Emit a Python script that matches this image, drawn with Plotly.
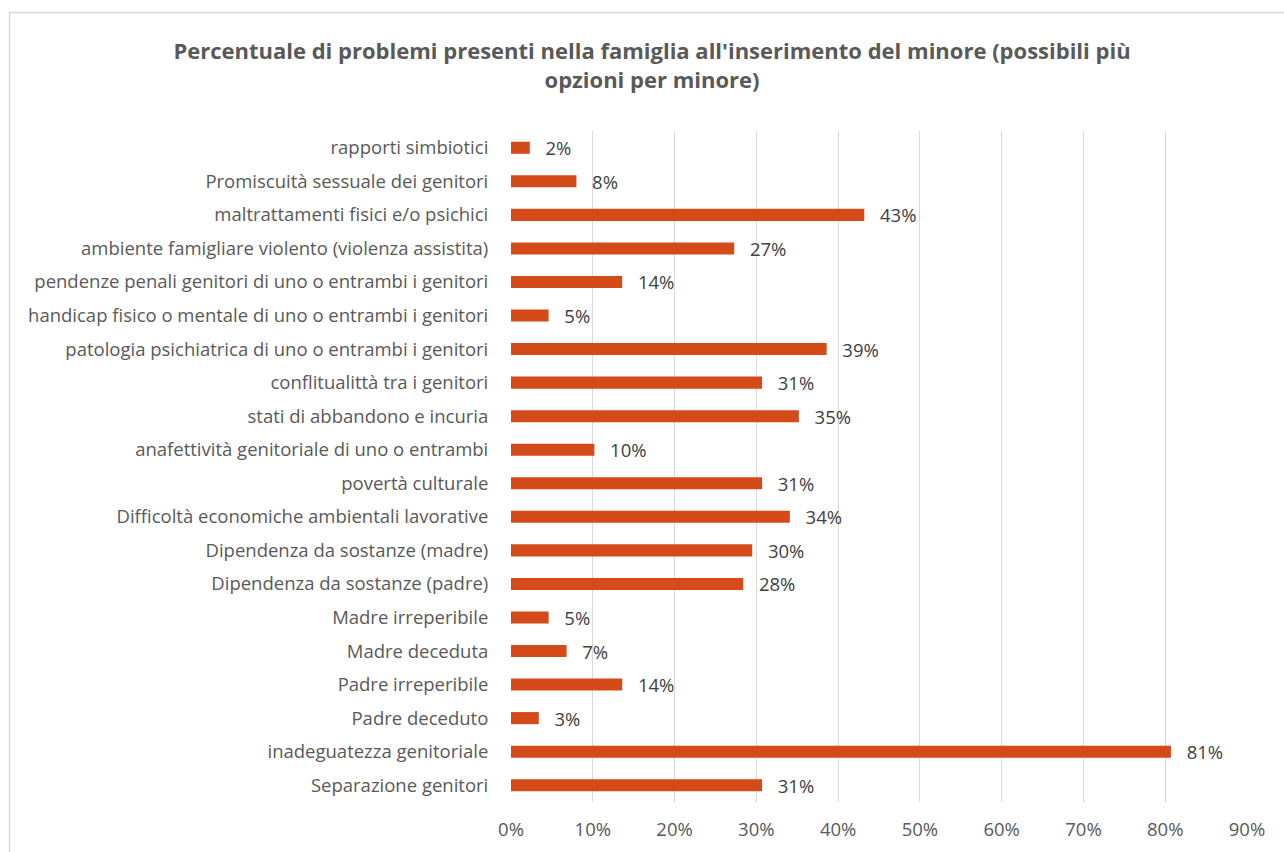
import plotly.graph_objects as go

# Problem categories, top to bottom as listed in the chart
categories = [
    "rapporti simbiotici",
    "Promiscuità sessuale dei genitori",
    "maltrattamenti fisici e/o psichici",
    "ambiente famigliare violento (violenza assistita)",
    "pendenze penali genitori di uno o entrambi i genitori",
    "handicap fisico o mentale di uno o entrambi i genitori",
    "patologia psichiatrica di uno o entrambi i genitori",
    "conflitualittà tra i genitori",
    "stati di abbandono e incuria",
    "anafettività genitoriale di uno o entrambi",
    "povertà culturale",
    "Difficoltà economiche ambientali lavorative",
    "Dipendenza da sostanze (madre)",
    "Dipendenza da sostanze (padre)",
    "Madre irreperibile",
    "Madre deceduta",
    "Padre irreperibile",
    "Padre deceduto",
    "inadeguatezza genitoriale",
    "Separazione genitori",
]

# Share of minors with each problem (%)
percentages = [
    2.3, 8.0, 43.2, 27.3, 13.6, 4.6, 38.6, 30.7, 35.2, 10.2,
    30.7, 34.1, 29.5, 28.4, 4.6, 6.8, 13.6, 3.4, 80.7, 30.7,
]

x_ticks = [0, 10, 20, 30, 40, 50, 60, 70, 80, 90]
x_tick_labels = ["0%", "10%", "20%", "30%", "40%", "50%", "60%", "70%", "80%", "90%"]

W, H = 1284, 852
L, R, T, B = 511, 37, 131, 50
pw, ph = W - L - R, H - T - B

FONT = "Open Sans"
SIZE = 18.5

fig = go.Figure(
    go.Bar(
        x=percentages,
        y=categories,
        orientation="h",
        marker=dict(color="#D44A19", line=dict(width=0)),
        texttemplate="\u00a0\u00a0\u2009%{x:.0f}%",
        textposition="outside",
        constraintext="none",
        textfont=dict(family=FONT, size=SIZE, color="#404040"),
        cliponaxis=False,
        hoverinfo="skip",
    )
)

fig.update_layout(
    width=W,
    height=H,
    margin=dict(l=L, r=R, t=T, b=B),
    paper_bgcolor="white",
    plot_bgcolor="white",
    bargap=0.64,
    showlegend=False,
    font=dict(family=FONT, size=SIZE, color="#595959"),
    title=dict(
        text="<b>Percentuale di problemi presenti nella famiglia all'inserimento del minore (possibili più<br>opzioni per minore)</b>",
        x=652 / W,
        xanchor="center",
        y=1 - 59 / H,
        yanchor="top",
        font=dict(family=FONT, size=22, color="#595959"),
    ),
    xaxis=dict(
        range=[0, 90],
        tickvals=x_ticks,
        ticktext=x_tick_labels,
        showgrid=True,
        gridcolor="#D9D9D9",
        gridwidth=1,
        zeroline=False,
        showline=False,
        ticks="outside",
        ticklen=11,
        tickcolor="rgba(0,0,0,0)",
        tickfont=dict(family=FONT, size=SIZE, color="#595959"),
        fixedrange=True,
    ),
    yaxis=dict(
        autorange="reversed",
        showgrid=False,
        zeroline=False,
        showline=False,
        ticks="outside",
        ticklen=18,
        tickcolor="rgba(0,0,0,0)",
        tickfont=dict(family=FONT, size=SIZE, color="#595959"),
        fixedrange=True,
    ),
)

# Outer chart frame
fig.add_shape(
    type="rect",
    xref="paper",
    yref="paper",
    x0=(9.5 - L) / pw,
    x1=(W + 10 - L) / pw,
    y0=-(B + 10) / ph,
    y1=1 + (T - 12.5) / ph,
    line=dict(color="#D9D9D9", width=1.5),
    fillcolor="rgba(0,0,0,0)",
    layer="below",
)

fig.write_html("out.html")
